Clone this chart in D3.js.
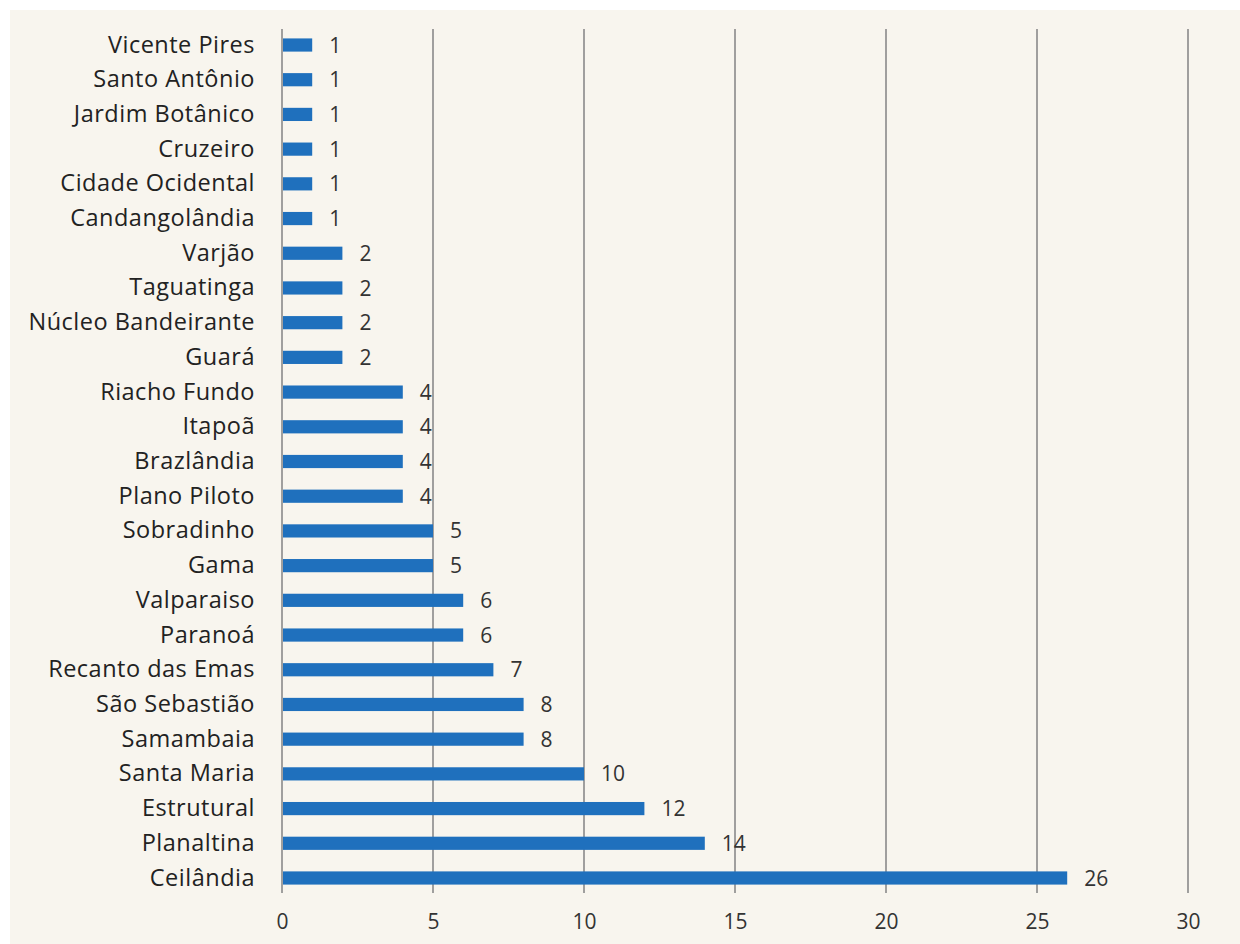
<!DOCTYPE html>
<html>
<head>
<meta charset="utf-8">
<script src="https://cdn.jsdelivr.net/npm/d3@7"></script>
<style>
  body { margin: 0; background: #ffffff; }
  svg { display: block; }
</style>
</head>
<body>
<svg id="chart" width="1240" height="944"></svg>
<script>
// data, top to bottom as in the picture
var places = ['Vicente Pires', 'Santo Antônio', 'Jardim Botânico', 'Cruzeiro', 'Cidade Ocidental',
  'Candangolândia', 'Varjão', 'Taguatinga', 'Núcleo Bandeirante', 'Guará', 'Riacho Fundo',
  'Itapoã', 'Brazlândia', 'Plano Piloto', 'Sobradinho', 'Gama', 'Valparaiso', 'Paranoá',
  'Recanto das Emas', 'São Sebastião', 'Samambaia', 'Santa Maria', 'Estrutural', 'Planaltina', 'Ceilândia'];
var counts = [1, 1, 1, 1, 1, 1, 2, 2, 2, 2, 4, 4, 4, 4, 5, 5, 6, 6, 7, 8, 8, 10, 12, 14, 26];
var xTicks = [0, 5, 10, 15, 20, 25, 30];

var svg = d3.select('#chart');
var margin = { top: 28, bottom: 49, left: 282, right: 52 };
var innerWidth = 1240 - margin.left - margin.right;
var innerHeight = 944 - margin.top - margin.bottom;

// cream panel
svg.append('rect')
  .attr('x', 10).attr('y', 10)
  .attr('width', 1230).attr('height', 934)
  .style('fill', '#f8f5ee');

var g = svg.append('g')
  .attr('transform', `translate(${margin.left}, ${margin.top})`);

var xScale = d3.scaleLinear().domain([0, 30]).range([0, innerWidth]);
var yScale = d3.scaleBand().domain(places).range([0, innerHeight]).paddingInner(0.62).paddingOuter(0.3);

// grid lines
g.selectAll('.grid')
  .data(xTicks)
  .enter()
  .append('line')
  .attr('x1', d => xScale(d))
  .attr('x2', d => xScale(d))
  .attr('y1', 1)
  .attr('y2', innerHeight - 2)
  .style('stroke', '#8a8a8a')
  .style('stroke-width', 1.6);

g.selectAll('.bar')
  .data(counts)
  .enter()
  .append('rect')
  .attr('x', xScale(0) + 1)
  .attr('y', (d, i) => yScale(places[i]))
  .attr('width', d => xScale(d) - xScale(0) - 1)
  .attr('height', yScale.bandwidth())
  .style('fill', '#1f70bd');

g.selectAll('.val')
  .data(counts)
  .enter()
  .append('text')
  .attr('x', d => xScale(d) + 17)
  .attr('y', (d, i) => yScale(places[i]) + yScale.bandwidth() / 2)
  .attr('dy', '0.36em')
  .style('font-family', 'Open Sans')
  .style('font-size', '21px')
  .style('fill', '#333')
  .text(d => d);

// category axis
var yAxis = d3.axisLeft(yScale).tickSize(0).tickPadding(27);
g.append('g').call(yAxis)
  .call(a => a.select('.domain').remove())
  .selectAll('text')
  .style('font-family', 'Open Sans')
  .style('font-size', '23.5px')
  .style('letter-spacing', '0.5px')
  .style('fill', '#222');

var xAxis = d3.axisBottom(xScale).tickValues(xTicks).tickSize(0).tickPadding(19);
g.append('g').call(xAxis)
  .attr('transform', `translate(0, ${innerHeight})`)
  .call(a => a.select('.domain').remove())
  .selectAll('text')
  .style('font-family', 'Open Sans')
  .style('font-size', '21px')
  .style('fill', '#333');
</script>
</body>
</html>
